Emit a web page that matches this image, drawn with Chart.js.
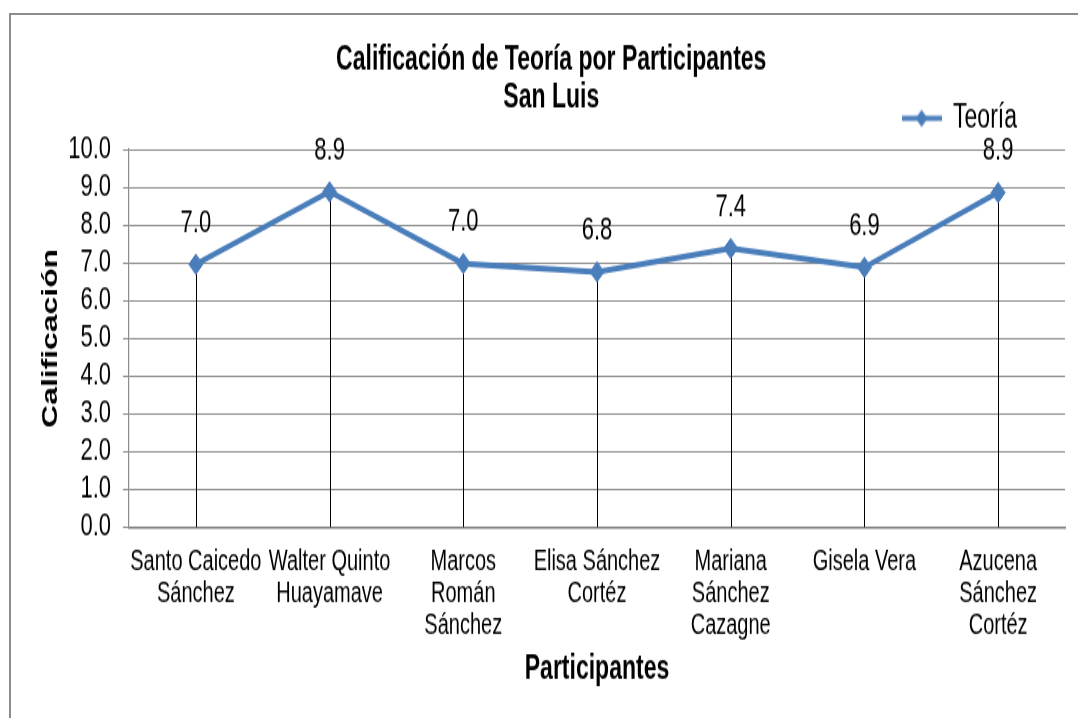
<!DOCTYPE html>
<html>
<head>
<meta charset="utf-8">
<script src="https://cdn.jsdelivr.net/npm/chart.js@4/dist/chart.umd.min.js"></script>
<style>
  html,body{margin:0;padding:0;background:#fff;overflow:hidden;}
  #frame{position:absolute;left:9px;top:13px;width:1200px;height:900px;border:2px solid #8c8c8c;box-sizing:border-box;}
  #holder{position:absolute;left:0;top:0;width:1078px;height:495px;transform-origin:0 0;transform:scaleY(1.4505);}
</style>
</head>
<body>
<div id="frame"></div>
<div id="holder"><canvas id="c" width="1078" height="495"></canvas></div>
<script>
const titleLines = ['Calificación de Teoría por Participantes', 'San Luis'];
const seriesName = 'Teoría';
const categories = [
  ['Santo Caicedo', 'Sánchez'],
  ['Walter Quinto', 'Huayamave'],
  ['Marcos', 'Román', 'Sánchez'],
  ['Elisa Sánchez', 'Cortéz'],
  ['Mariana', 'Sánchez', 'Cazagne'],
  ['Gisela Vera'],
  ['Azucena', 'Sánchez', 'Cortéz']
];
const teoria = [6.96, 8.88, 6.98, 6.76, 7.38, 6.88, 8.86];
const yMin = 0, yMax = 10, yStep = 1;
const xTitle = 'Participantes';
const yTitle = 'Calificación';

const FONT = "'Liberation Sans', Arial, sans-serif";
const BLUE = '#4a7ebb';

// legend icon: line with a diamond marker
const legendIcon = document.createElement('canvas');
legendIcon.width = 40; legendIcon.height = 14;
(function () {
  const g = legendIcon.getContext('2d');
  g.strokeStyle = BLUE; g.lineWidth = 3.6;
  g.beginPath(); g.moveTo(0, 7); g.lineTo(40, 7); g.stroke();
  g.fillStyle = BLUE;
  g.beginPath(); g.moveTo(20, 1); g.lineTo(26, 7); g.lineTo(20, 13); g.lineTo(14, 7); g.closePath(); g.fill();
})();

const dropLines = {
  id: 'dropLines',
  beforeDatasetsDraw(chart) {
    const ctx = chart.ctx;
    const meta = chart.getDatasetMeta(0);
    const bottom = chart.scales.y.getPixelForValue(yMin);
    ctx.save();
    ctx.strokeStyle = '#000';
    ctx.lineWidth = 1;
    meta.data.forEach(p => {
      const x = Math.round(p.x) + 0.5;
      ctx.beginPath();
      ctx.moveTo(x, p.y);
      ctx.lineTo(x, bottom);
      ctx.stroke();
    });
    ctx.restore();
  }
};

const dataLabels = {
  id: 'dataLabels',
  afterDatasetsDraw(chart) {
    const ctx = chart.ctx;
    const meta = chart.getDatasetMeta(0);
    ctx.save();
    ctx.fillStyle = '#000';
    ctx.font = '22px ' + FONT;
    ctx.textAlign = 'center';
    ctx.textBaseline = 'middle';
    meta.data.forEach((p, i) => {
      ctx.fillText(teoria[i].toFixed(1), p.x, p.y - 28.3);
    });
    ctx.restore();
  }
};

new Chart(document.getElementById('c'), {
  type: 'line',
  data: {
    labels: categories,
    datasets: [{
      label: seriesName,
      data: teoria,
      borderColor: BLUE,
      backgroundColor: BLUE,
      borderWidth: 4,
      pointStyle: 'rectRot',
      pointRadius: 7,
      pointHoverRadius: 7,
      pointBackgroundColor: BLUE,
      pointBorderColor: BLUE,
      pointBorderWidth: 1,
      tension: 0
    }]
  },
  options: {
    responsive: false,
    animation: false,
    devicePixelRatio: 1,
    layout: { padding: { top: 11.5, left: 37.5, right: 13, bottom: 19.2 } },
    plugins: {
      tooltip: { enabled: false },
      title: {
        display: true,
        text: titleLines,
        color: '#000',
        font: { family: FONT, size: 23, weight: 'bold', lineHeight: 1.14 },
        padding: { top: 16.9, bottom: -58.8 }
      },
      legend: {
        display: true,
        position: 'top',
        align: 'end',
        labels: {
          color: '#000',
          font: { family: FONT, size: 23 },
          usePointStyle: true,
          pointStyleWidth: 40,
          padding: 48,
          generateLabels() {
            return [{
              text: seriesName,
              fillStyle: BLUE,
              strokeStyle: BLUE,
              lineWidth: 0,
              pointStyle: legendIcon,
              datasetIndex: 0,
              hidden: false
            }];
          }
        }
      }
    },
    scales: {
      x: {
        offset: true,
        grid: { display: false, drawTicks: false },
        border: { display: true, color: '#7f7f7f', width: 1.5 },
        ticks: {
          color: '#000',
          font: { family: FONT, size: 20, lineHeight: 1.1 },
          maxRotation: 0,
          minRotation: 0,
          autoSkip: false,
          padding: 13.2
        },
        title: {
          display: true,
          text: xTitle,
          color: '#000',
          font: { family: FONT, size: 23, weight: 'bold' },
          padding: { top: 0, bottom: 0 }
        },
        afterFit(scale) { scale.height = 112.4; }
      },
      y: {
        min: yMin,
        max: yMax,
        grid: { color: '#8c8c8c', lineWidth: 1, drawTicks: true, tickLength: 6 },
        border: { display: true, color: '#8c8c8c', width: 1.2 },
        ticks: {
          stepSize: yStep,
          autoSkip: false,
          color: '#000',
          font: { family: FONT, size: 22 },
          padding: 12,
          callback: v => Number(v).toFixed(1)
        },
        title: {
          display: true,
          text: yTitle,
          color: '#000',
          font: { family: FONT, size: 22, weight: 'bold' },
          padding: { top: 0, bottom: 0 }
        },
        afterFit(scale) { scale.width = 91.5; }
      }
    }
  },
  plugins: [dropLines, dataLabels]
});
</script>
</body>
</html>
